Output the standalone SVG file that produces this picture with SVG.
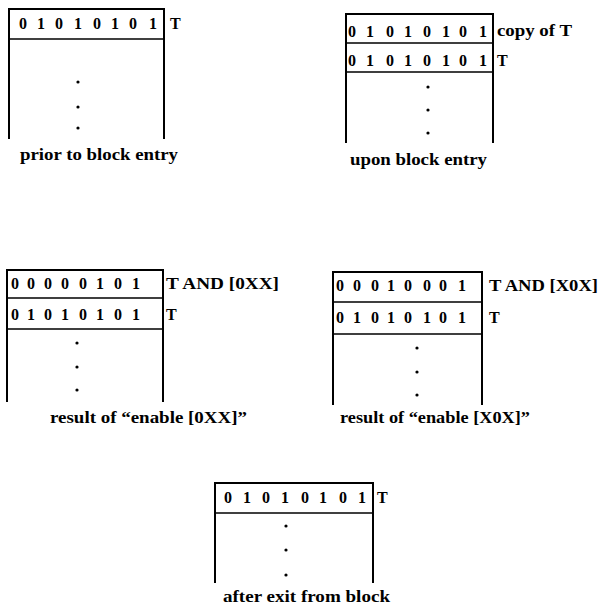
<svg xmlns="http://www.w3.org/2000/svg" width="605" height="608" viewBox="0 0 605 608">
  <style>
    .frame { fill: none; stroke: #000; stroke-width: 2; }
    .rule { fill: none; stroke: #000; stroke-width: 1.6; }
    .bit { font-family: "Liberation Serif", "Times New Roman", serif; font-weight: bold; font-size: 16px; fill: #000; text-anchor: middle; }
    .tag { font-family: "Liberation Serif", "Times New Roman", serif; font-weight: bold; font-size: 16px; fill: #000; }
    .cap { font-family: "Liberation Serif", "Times New Roman", serif; font-weight: bold; font-size: 16px; fill: #000; }
    .dot { fill: #000; }
  </style>
  <rect width="605" height="608" fill="#fff"/>

  <!-- stack before the block is entered -->
  <g id="stack-prior">
    <path class="frame" d="M9,139 V9 H164 V139"/>
    <path class="rule" d="M9,39 H164"/>
    <g class="bit">
      <text x="23" y="29">0</text><text x="41" y="29">1</text><text x="59" y="29">0</text><text x="78" y="29">1</text>
      <text x="97" y="29">0</text><text x="115" y="29">1</text><text x="133" y="29">0</text><text x="153" y="29">1</text>
    </g>
    <text class="tag" x="170" y="29">T</text>
    <circle class="dot" cx="78" cy="82" r="1.6"/>
    <circle class="dot" cx="78" cy="107" r="1.6"/>
    <circle class="dot" cx="78" cy="128" r="1.6"/>
    <text class="cap" x="20" y="160" textLength="158" lengthAdjust="spacingAndGlyphs">prior to block entry</text>
  </g>

  <!-- stack on block entry: T is duplicated -->
  <g id="stack-entry">
    <path class="frame" d="M346,143 V14 H493 V143"/>
    <path class="rule" d="M346,43 H493 M346,72 H493"/>
    <g class="bit">
      <text x="352" y="37">0</text><text x="370" y="37">1</text><text x="390" y="37">0</text><text x="408" y="37">1</text>
      <text x="427" y="37">0</text><text x="446" y="37">1</text><text x="463" y="37">0</text><text x="483" y="37">1</text>
      <text x="352" y="66">0</text><text x="370" y="66">1</text><text x="390" y="66">0</text><text x="408" y="66">1</text>
      <text x="427" y="66">0</text><text x="446" y="66">1</text><text x="463" y="66">0</text><text x="483" y="66">1</text>
    </g>
    <text class="tag" x="497" y="36" textLength="75" lengthAdjust="spacingAndGlyphs">copy of T</text>
    <text class="tag" x="497" y="66">T</text>
    <circle class="dot" cx="428" cy="87" r="1.6"/>
    <circle class="dot" cx="428" cy="110" r="1.6"/>
    <circle class="dot" cx="428" cy="133" r="1.6"/>
    <text class="cap" x="350" y="165" textLength="137" lengthAdjust="spacingAndGlyphs">upon block entry</text>
  </g>

  <!-- result of enable [0XX] -->
  <g id="stack-enable-0xx">
    <path class="frame" d="M7,402 V270 H163 V402"/>
    <path class="rule" d="M7,298 H163 M7,329 H163"/>
    <g class="bit">
      <text x="15" y="289">0</text><text x="31" y="289">0</text><text x="48" y="289">0</text><text x="65" y="289">0</text>
      <text x="83" y="289">0</text><text x="100" y="289">1</text><text x="118" y="289">0</text><text x="136" y="289">1</text>
      <text x="15" y="320">0</text><text x="31" y="320">1</text><text x="48" y="320">0</text><text x="65" y="320">1</text>
      <text x="83" y="320">0</text><text x="100" y="320">1</text><text x="118" y="320">0</text><text x="136" y="320">1</text>
    </g>
    <text class="tag" x="166" y="289" textLength="113" lengthAdjust="spacingAndGlyphs">T AND [0XX]</text>
    <text class="tag" x="166" y="320">T</text>
    <circle class="dot" cx="77" cy="343" r="1.6"/>
    <circle class="dot" cx="77" cy="367" r="1.6"/>
    <circle class="dot" cx="77" cy="390" r="1.6"/>
    <text class="cap" x="50" y="423" textLength="197" lengthAdjust="spacingAndGlyphs">result of “enable [0XX]”</text>
  </g>

  <!-- result of enable [X0X] -->
  <g id="stack-enable-x0x">
    <path class="frame" d="M333,405 V272 H482 V405"/>
    <path class="rule" d="M333,302 H482 M333,334 H482"/>
    <g class="bit">
      <text x="340" y="291">0</text><text x="357" y="291">0</text><text x="375" y="291">0</text><text x="391" y="291">1</text>
      <text x="408" y="291">0</text><text x="427" y="291">0</text><text x="443" y="291">0</text><text x="462" y="291">1</text>
      <text x="340" y="323">0</text><text x="357" y="323">1</text><text x="375" y="323">0</text><text x="391" y="323">1</text>
      <text x="408" y="323">0</text><text x="427" y="323">1</text><text x="443" y="323">0</text><text x="462" y="323">1</text>
    </g>
    <text class="tag" x="489" y="291" textLength="109" lengthAdjust="spacingAndGlyphs">T AND [X0X]</text>
    <text class="tag" x="489" y="323">T</text>
    <circle class="dot" cx="417" cy="348" r="1.6"/>
    <circle class="dot" cx="417" cy="372" r="1.6"/>
    <circle class="dot" cx="417" cy="395" r="1.6"/>
    <text class="cap" x="340" y="423" textLength="190" lengthAdjust="spacingAndGlyphs">result of “enable [X0X]”</text>
  </g>

  <!-- stack after the block is left -->
  <g id="stack-exit">
    <path class="frame" d="M215,583 V483 H373 V583"/>
    <path class="rule" d="M215,513 H373"/>
    <g class="bit">
      <text x="228" y="503">0</text><text x="247" y="503">1</text><text x="266" y="503">0</text><text x="285" y="503">1</text>
      <text x="305" y="503">0</text><text x="323" y="503">1</text><text x="343" y="503">0</text><text x="362" y="503">1</text>
    </g>
    <text class="tag" x="377" y="503">T</text>
    <circle class="dot" cx="286" cy="526" r="1.6"/>
    <circle class="dot" cx="286" cy="550" r="1.6"/>
    <circle class="dot" cx="286" cy="575" r="1.6"/>
    <text class="cap" x="223" y="602" textLength="167" lengthAdjust="spacingAndGlyphs">after exit from block</text>
  </g>
</svg>
